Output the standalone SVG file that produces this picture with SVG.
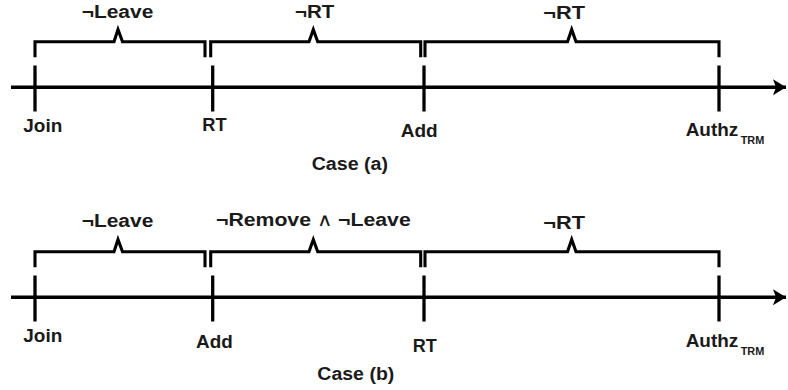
<svg xmlns="http://www.w3.org/2000/svg" width="788" height="390" viewBox="0 0 788 390">
<defs>
<style>
.ax{stroke:#000;stroke-width:3.5;fill:none}
.tk{stroke:#000;stroke-width:3.3;fill:none}
.br{stroke:#000;stroke-width:3.1;fill:none;stroke-linejoin:miter}
.lb{font-family:"Liberation Sans",Arial,sans-serif;font-weight:bold;font-size:18px;fill:#1a1a1a}
.sb{font-family:"Liberation Sans",Arial,sans-serif;font-weight:bold;font-size:10px;fill:#1a1a1a}
</style>
<marker id="arr" markerUnits="userSpaceOnUse" markerWidth="16" markerHeight="18" refX="13" refY="8" orient="auto">
<path d="M0,0 L13,8 L0,16 L3,8 Z" fill="#000"/>
</marker>
</defs>
<rect width="788" height="390" fill="#fff"/>
<g id="connectors">
<line class="ax" x1="11" y1="87.3" x2="786" y2="87.3" marker-end="url(#arr)"/>
<line class="ax" x1="11" y1="297.3" x2="786" y2="297.3" marker-end="url(#arr)"/>
</g>
<g id="case-a">
<g id="a-join"><line class="tk" x1="35" y1="65.5" x2="35" y2="111.5"/><text class="lb" x="23.3" y="131.5" textLength="39" lengthAdjust="spacingAndGlyphs">Join</text></g>
<g id="a-rt"><line class="tk" x1="212.7" y1="65.5" x2="212.7" y2="111.5"/><text class="lb" x="202.3" y="131" textLength="24.3" lengthAdjust="spacingAndGlyphs">RT</text></g>
<g id="a-add"><line class="tk" x1="424" y1="65.5" x2="424" y2="111.5"/><text class="lb" x="400.7" y="137" textLength="37" lengthAdjust="spacingAndGlyphs">Add</text></g>
<g id="a-authz"><line class="tk" x1="719" y1="65.5" x2="719" y2="111.5"/><text class="lb"><tspan x="685.7" y="136" textLength="52.6" lengthAdjust="spacingAndGlyphs">Authz</tspan><tspan class="sb" x="740.7" y="144" textLength="23.6" lengthAdjust="spacingAndGlyphs">TRM</tspan></text></g>
<g id="a-br1"><path class="br" d="M35,57.3 V41.7 H114 L118,29.5 L122.5,41.7 H205 V57.3"/><text class="lb" x="81.7" y="17.5" textLength="71.6" lengthAdjust="spacingAndGlyphs">¬Leave</text></g>
<g id="a-br2"><path class="br" d="M210.7,57.3 V41.7 H309 L313.3,29.5 L317.7,41.7 H420.7 V57.3"/><text class="lb" x="295" y="17.5" textLength="39.3" lengthAdjust="spacingAndGlyphs">¬RT</text></g>
<g id="a-br3"><path class="br" d="M425,57.3 V41.7 H567.5 L571.7,29.5 L576,41.7 H719 V57.3"/><text class="lb" x="543.3" y="18.5" textLength="41.7" lengthAdjust="spacingAndGlyphs">¬RT</text></g>
<text class="lb" x="311.7" y="170" textLength="76.3" lengthAdjust="spacingAndGlyphs">Case (a)</text>
</g>
<g id="case-b">
<g id="b-join"><line class="tk" x1="35" y1="275.5" x2="35" y2="321.5"/><text class="lb" x="23.3" y="341.5" textLength="39" lengthAdjust="spacingAndGlyphs">Join</text></g>
<g id="b-add"><line class="tk" x1="212.7" y1="275.5" x2="212.7" y2="321.5"/><text class="lb" x="196" y="348" textLength="36.7" lengthAdjust="spacingAndGlyphs">Add</text></g>
<g id="b-rt"><line class="tk" x1="424" y1="275.5" x2="424" y2="321.5"/><text class="lb" x="412.7" y="352" textLength="24" lengthAdjust="spacingAndGlyphs">RT</text></g>
<g id="b-authz"><line class="tk" x1="719" y1="275.5" x2="719" y2="321.5"/><text class="lb"><tspan x="685.7" y="346.5" textLength="52.6" lengthAdjust="spacingAndGlyphs">Authz</tspan><tspan class="sb" x="740.7" y="354.5" textLength="23.6" lengthAdjust="spacingAndGlyphs">TRM</tspan></text></g>
<g id="b-br1"><path class="br" d="M35,267.3 V251.7 H114 L118,239.5 L122.5,251.7 H205 V267.3"/><text class="lb" x="81.7" y="227" textLength="71.6" lengthAdjust="spacingAndGlyphs">¬Leave</text></g>
<g id="b-br2"><path class="br" d="M210.7,267.3 V251.7 H309 L313.3,239.5 L317.7,251.7 H420.7 V267.3"/><text class="lb" x="216" y="225.5" textLength="194.7" lengthAdjust="spacingAndGlyphs">¬Remove <tspan font-weight="normal">∧</tspan>  ¬Leave</text></g>
<g id="b-br3"><path class="br" d="M425,267.3 V251.7 H567.5 L571.7,239.5 L576,251.7 H719 V267.3"/><text class="lb" x="543.3" y="229" textLength="41.7" lengthAdjust="spacingAndGlyphs">¬RT</text></g>
<text class="lb" x="317.3" y="380" textLength="77" lengthAdjust="spacingAndGlyphs">Case (b)</text>
</g>
</svg>
